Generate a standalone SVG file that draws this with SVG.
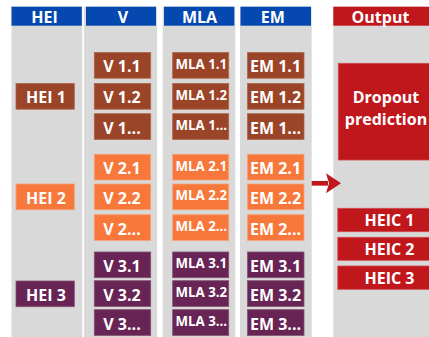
<svg xmlns="http://www.w3.org/2000/svg" width="429" height="337" viewBox="0 0 429 337">
<defs>
<style>
.col{fill:#d9d9d9}
.hb{fill:#0548b0}
.hr{fill:#c0171d}
.ht{font-family:"Open Sans","DejaVu Sans",sans-serif;font-weight:700;font-size:16px;fill:#fff;text-anchor:middle}
.t{font-family:"Open Sans","DejaVu Sans",sans-serif;font-weight:700;font-size:16px;fill:#fff;text-anchor:middle}
.ts{font-family:"Open Sans","DejaVu Sans",sans-serif;font-weight:700;font-size:13.3px;fill:#fff;text-anchor:middle}
.b1{fill:#9a4428;stroke:#b0654a;stroke-width:0.8}
.b2{fill:#f7783a;stroke:#f9a078;stroke-width:0.8}
.b3{fill:#672455;stroke:#83506f;stroke-width:0.8}
.out{fill:#c0171d;stroke:#cf4a4e;stroke-width:0.8}
</style>
<marker id="ah" markerUnits="userSpaceOnUse" markerWidth="16" markerHeight="21" refX="2" refY="10" orient="auto">
<path d="M0,0 L15,10 L0,20 L3,10 Z" fill="#c0171d"/>
</marker>
</defs>
<rect width="429" height="337" fill="#fff"/>
<g id="columns">
<rect class="col" x="11.5" y="6.7" width="70.8" height="331"/>
<rect class="col" x="84" y="6.7" width="73" height="331"/>
<rect class="col" x="162.7" y="6.7" width="72.6" height="331"/>
<rect class="col" x="240" y="6.7" width="71.7" height="331"/>
<rect class="col" x="333.3" y="6.7" width="96" height="331"/>
</g>
<g id="headers">
<g id="h-hei"><rect class="hb" x="11.5" y="6.7" width="70.3" height="19"/><text class="ht" x="44.5" y="22.6">HEI</text></g>
<g id="h-v"><rect class="hb" x="86" y="6.7" width="70" height="19"/><text class="ht" x="123" y="22.6">V</text></g>
<g id="h-mla"><rect class="hb" x="164" y="6.7" width="70.3" height="19"/><text class="ht" x="199.5" y="22.6">MLA</text></g>
<g id="h-em"><rect class="hb" x="240.5" y="6.7" width="70.5" height="19"/><text class="ht" x="272.7" y="22.6">EM</text></g>
<g id="h-out"><rect class="hr" x="333.3" y="6.7" width="96" height="19"/><text class="ht" x="380.5" y="22.6">Output</text></g>
</g>
<g id="hei1"><rect class="b1" x="16" y="83.5" width="58.3" height="25.7"/><text class="t" x="46" y="103.1">HEI 1</text></g>
<g id="hei2"><rect class="b2" x="16" y="184" width="58.3" height="25.7"/><text class="t" x="46" y="203.6">HEI 2</text></g>
<g id="hei3"><rect class="b3" x="16" y="281" width="58.3" height="25.7"/><text class="t" x="46" y="300.6">HEI 3</text></g>

<g id="v11"><rect class="b1" x="94.3" y="52.5" width="56.4" height="25.7"/><text class="t" x="122" y="72.3">V 1.1</text></g>
<g id="v12"><rect class="b1" x="94.3" y="83.5" width="56.4" height="25.7"/><text class="t" x="122" y="103.3">V 1.2</text></g>
<g id="v1n"><rect class="b1" x="94.3" y="113.7" width="56.4" height="25.7"/><text class="t" x="122" y="133.5">V 1...</text></g>
<g id="v21"><rect class="b2" x="94.3" y="154.3" width="56.4" height="25.7"/><text class="t" x="122" y="174.1">V 2.1</text></g>
<g id="v22"><rect class="b2" x="94.3" y="184" width="56.4" height="25.7"/><text class="t" x="122" y="203.8">V 2.2</text></g>
<g id="v2n"><rect class="b2" x="94.3" y="214.7" width="56.4" height="25.7"/><text class="t" x="122" y="234.5">V 2...</text></g>
<g id="v31"><rect class="b3" x="94.3" y="252" width="56.4" height="25.7"/><text class="t" x="122" y="271.8">V 3.1</text></g>
<g id="v32"><rect class="b3" x="94.3" y="280.7" width="56.4" height="25.7"/><text class="t" x="122" y="300.5">V 3.2</text></g>
<g id="v3n"><rect class="b3" x="94.3" y="309.7" width="56.4" height="25.7"/><text class="t" x="122" y="329.5">V 3...</text></g>

<g id="mla11"><rect class="b1" x="172.7" y="52.5" width="56" height="25.7"/><text class="ts" x="201.3" y="68.8">MLA 1.1</text></g>
<g id="mla12"><rect class="b1" x="172.7" y="83.5" width="56" height="25.7"/><text class="ts" x="201.3" y="99.8">MLA 1.2</text></g>
<g id="mla1n"><rect class="b1" x="172.7" y="113.7" width="56" height="25.7"/><text class="ts" x="201.3" y="130">MLA 1...</text></g>
<g id="mla21"><rect class="b2" x="172.7" y="154.3" width="56" height="25.7"/><text class="ts" x="201.3" y="170.6">MLA 2.1</text></g>
<g id="mla22"><rect class="b2" x="172.7" y="184" width="56" height="25.7"/><text class="ts" x="201.3" y="200.3">MLA 2.2</text></g>
<g id="mla2n"><rect class="b2" x="172.7" y="214.7" width="56" height="25.7"/><text class="ts" x="201.3" y="231.4">MLA 2...</text></g>
<g id="mla31"><rect class="b3" x="172.7" y="252" width="56" height="25.7"/><text class="ts" x="201.3" y="268.3">MLA 3.1</text></g>
<g id="mla32"><rect class="b3" x="172.7" y="280.7" width="56" height="25.7"/><text class="ts" x="201.3" y="297">MLA 3.2</text></g>
<g id="mla3n"><rect class="b3" x="172.7" y="309.7" width="56" height="25.7"/><text class="ts" x="201.3" y="326">MLA 3...</text></g>

<g id="em11"><rect class="b1" x="247.5" y="52.5" width="56.5" height="25.7"/><text class="t" x="275.5" y="72.3">EM 1.1</text></g>
<g id="em12"><rect class="b1" x="247.5" y="83.5" width="56.5" height="25.7"/><text class="t" x="275.5" y="103.3">EM 1.2</text></g>
<g id="em1n"><rect class="b1" x="247.5" y="113.7" width="56.5" height="25.7"/><text class="t" x="275.5" y="133.5">EM 1...</text></g>
<g id="em21"><rect class="b2" x="247.5" y="154.3" width="56.5" height="25.7"/><text class="t" x="275.5" y="174.1">EM 2.1</text></g>
<g id="em22"><rect class="b2" x="247.5" y="184" width="56.5" height="25.7"/><text class="t" x="275.5" y="203.8">EM 2.2</text></g>
<g id="em2n"><rect class="b2" x="247.5" y="214.7" width="56.5" height="25.7"/><text class="t" x="275.5" y="234.5">EM 2...</text></g>
<g id="em31"><rect class="b3" x="247.5" y="252" width="56.5" height="25.7"/><text class="t" x="275.5" y="271.8">EM 3.1</text></g>
<g id="em32"><rect class="b3" x="247.5" y="280.7" width="56.5" height="25.7"/><text class="t" x="275.5" y="300.5">EM 3.2</text></g>
<g id="em3n"><rect class="b3" x="247.5" y="309.7" width="56.5" height="25.7"/><text class="t" x="275.5" y="329.5">EM 3...</text></g>

<g id="dropout"><rect class="out" x="338.3" y="63.3" width="100" height="96.7"/><text class="t" x="386" y="102.8">Dropout</text><text class="t" x="386" y="124.9">prediction</text></g>
<g id="heic1"><rect class="out" x="337.8" y="208.3" width="100" height="23.4"/><text class="t" x="389.5" y="226">HEIC 1</text></g>
<g id="heic2"><rect class="out" x="337.8" y="237.3" width="100" height="23"/><text class="t" x="389.5" y="254.8">HEIC 2</text></g>
<g id="heic3"><rect class="out" x="337.8" y="266" width="100" height="23.3"/><text class="t" x="389.5" y="283.6">HEIC 3</text></g>

<g id="connectors">
<path d="M311.7,183.3 L328,183.3" stroke="#c0171d" stroke-width="4.7" fill="none" marker-end="url(#ah)"/>
</g>
</svg>
